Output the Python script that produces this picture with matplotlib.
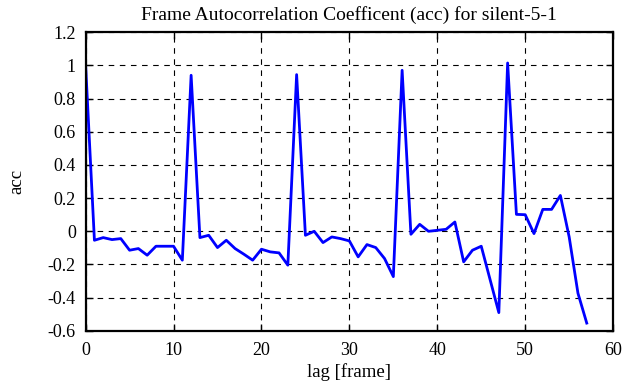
import matplotlib
matplotlib.use("Agg")
import matplotlib.pyplot as plt
import numpy as np

plt.rcParams['font.family'] = ['Liberation Serif', 'DejaVu Serif']

# autocorrelation values, lag 0..57
acc = [1.0, -0.054, -0.038, -0.05, -0.044, -0.114, -0.104, -0.144, -0.09, -0.09,
       -0.09, -0.174, 0.94, -0.038, -0.024, -0.098, -0.054, -0.104, -0.138, -0.174,
       -0.108, -0.124, -0.13, -0.204, 0.944, -0.024, 0.0, -0.068, -0.034, -0.044,
       -0.058, -0.154, -0.08, -0.098, -0.164, -0.273, 0.97, -0.018, 0.042, 0.0,
       0.006, 0.012, 0.056, -0.184, -0.114, -0.09, -0.29, -0.49, 1.014, 0.102,
       0.1, -0.014, 0.132, 0.132, 0.216, -0.034, -0.373, -0.553]
lags = np.arange(len(acc))

xticks = [0, 10, 20, 30, 40, 50, 60]
yticks = [-0.6, -0.4, -0.2, 0, 0.2, 0.4, 0.6, 0.8, 1, 1.2]
ytick_labels = ['-0.6', '-0.4', '-0.2', '0', '0.2', '0.4', '0.6', '0.8', '1', '1.2']

fig = plt.figure(figsize=(6.25, 3.87), dpi=100)
ax = fig.add_axes([0.137, 0.145, 0.844, 0.772])

ax.plot(lags, acc, color='#0000ff', lw=2.0)

ax.set_xlim(0, 60)
ax.set_ylim(-0.6, 1.2)
ax.set_xticks(xticks)
ax.set_yticks(yticks)
ax.set_yticklabels(ytick_labels)
ax.grid(True, color='black', linestyle=(0, (5, 5)), lw=0.8)
ax.tick_params(direction='in', top=True, right=True, length=5, width=1,
               labelsize=13)
ax.tick_params(axis='x', pad=8)
ax.tick_params(axis='y', pad=7)
for s in ax.spines.values():
    s.set_linewidth(1.6)

ax.set_xlabel('lag [frame]', fontsize=13.5, labelpad=3)
ax.set_ylabel('acc', fontsize=13.5, labelpad=16)
ax.set_title('Frame Autocorrelation Coefficent (acc) for silent-5-1', fontsize=14, pad=9)

fig.savefig('out.png', dpi=100)
